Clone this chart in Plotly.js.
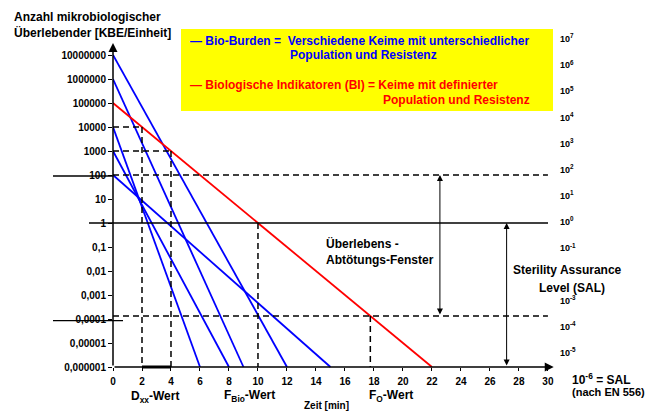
<!DOCTYPE html>
<html><head><meta charset="utf-8">
<script src="https://cdn.plot.ly/plotly-3.0.1.min.js"></script>
<style>body{margin:0;background:#fff}#chart{width:656px;height:412px}</style>
</head><body><div id="chart"></div>
<script>
// ---- data ----
const timeTicks = [0,2,4,6,8,10,12,14,16,18,20,22,24,26,28,30];
const survivorTickVals = [1e7,1e6,1e5,1e4,1e3,1e2,1e1,1,0.1,0.01,0.001,0.0001,0.00001,0.000001];
const survivorTickText = ['10000000','1000000','100000','10000','1000','100','10','1','0,1','0,01','0,001','0,0001','0,00001','0,000001'];
const salTickVals = [1e7,1e6,1e5,1e4,1e3,1e2,1e1,1,0.1,0.001,0.0001,0.00001];
const salTickText = ['10<sup>7</sup>','10<sup>6</sup>','10<sup>5</sup>','10<sup>4</sup>','10<sup>3</sup>','10<sup>2</sup>','10<sup>1</sup>','10<sup>0</sup>','10<sup>-1</sup>','10<sup>-3</sup>','10<sup>-4</sup>','10<sup>-5</sup>'];
const bioBurdenStart = [1e7, 1e6, 1e4, 1e3, 1e2];
const bioBurdenEnd = [12, 9, 6, 8, 15];
const biStart = 1e5;
const biEnd = 22;
const salLevel = 1e-6;
const markTimes = [2, 4, 10, 17.75];
const markLevels = [1e4, 1e3, 1, 1.33e-4];
const windowTop = 100;
const windowBottom = 1.33e-4;
const windowEnd = 30;

// ---- layout geometry ----
const F = 'Liberation Sans, Arial, sans-serif';
const L = 113, R = 553, T = 39, B = 379;
const W = R - L, H = B - T;
const px2x = p => (p - L) / W;
const px2y = p => (B - p) / H;
const bold = s => '<b>' + s + '</b>';

const traces = [];
const blue = '#0000ff', red = '#ff0000';
for (let i = 0; i < bioBurdenStart.length; i++) {
  traces.push({x:[0, bioBurdenEnd[i]], y:[bioBurdenStart[i], salLevel], mode:'lines',
    line:{color:blue, width:1.8}, hoverinfo:'skip', showlegend:false});
}
traces.push({x:[0, biEnd], y:[biStart, salLevel], mode:'lines',
  line:{color:red, width:1.8}, hoverinfo:'skip', showlegend:false});
const dash = {color:'black', width:1.5, dash:'6px,4px'};
for (let i = 0; i < markTimes.length; i++) {
  traces.push({x:[markTimes[i], markTimes[i]], y:[markLevels[i], salLevel], mode:'lines', line:dash, hoverinfo:'skip', showlegend:false});
  if (i < 2) traces.push({x:[0, markTimes[i]], y:[markLevels[i], markLevels[i]], mode:'lines', line:dash, hoverinfo:'skip', showlegend:false});
}
traces.push({x:[0, windowEnd], y:[windowTop, windowTop], mode:'lines', line:dash, hoverinfo:'skip', showlegend:false});
traces.push({x:[0, windowEnd], y:[windowBottom, windowBottom], mode:'lines', line:dash, hoverinfo:'skip', showlegend:false});
traces.push({x:[markTimes[0], markTimes[1]], y:[salLevel, salLevel], mode:'lines', line:{color:'black', width:3}, hoverinfo:'skip', showlegend:false});
traces.push({x:[0], y:[1], yaxis:'y2', mode:'markers', marker:{opacity:0}, hoverinfo:'skip', showlegend:false});

function txt(text, xpx, ypx, anchor, color, size, extra) {
  return Object.assign({text:bold(text), xref:'paper', yref:'paper', x:px2x(xpx), y:px2y(ypx),
    xanchor:anchor, yanchor:'middle', showarrow:false,
    font:{family:F, size:size, color:color}}, extra || {});
}
function arrow(x, y, ax, ay, side, w) {
  return {x:x, y:y, ax:ax, ay:ay, xref:'x', yref:'y', axref:'x', ayref:'y', text:'', showarrow:true,
    arrowhead:2, arrowsize:1.2, arrowwidth:w, arrowcolor:'black', arrowside:side, standoff:0, startstandoff:0};
}

const annotations = [
  arrow(0, 7.5, 0, -6, 'end', 1.5),
  arrow(30.4, -6, 0, -6, 'end', 1.5),
  arrow(22.55, 2, 22.55, Math.log10(windowBottom), 'end+start', 1),
  arrow(27.15, 0, 27.15, -6, 'end+start', 1),
  txt('— Bio-Burden =\u00a0\u00a0Verschiedene Keime mit unterschiedlicher', 188, 41, 'left', blue, 12),
  txt('Population und Resistenz', 288, 55, 'left', blue, 12),
  txt('— Biologische Indikatoren (BI) = Keime mit definierter', 188, 85, 'left', red, 12),
  txt('Population und Resistenz', 381, 100, 'left', red, 12),
  txt('Überlebens -<br>Abtötungs-Fenster', 324, 251, 'left', 'black', 12, {align:'left'}),
  txt('Sterility Assurance', 567, 270, 'center', 'black', 12),
  txt('Level (SAL)', 572, 288, 'center', 'black', 12),
  txt('10<sup>-6</sup> = SAL', 570, 379, 'left', 'black', 12),
  txt('(nach EN 556)', 570, 392, 'left', 'black', 11),
  txt('D<sub>xx</sub>-Wert', 155, 397, 'center', 'black', 12),
  txt('F<sub>Bio</sub>-Wert', 249, 396, 'center', 'black', 12),
  txt('F<sub>O</sub>-Wert', 391, 396, 'center', 'black', 12),
  txt('Zeit [min]', 326, 405, 'center', 'black', 10)
];

const shapes = [
  {type:'rect', xref:'paper', yref:'paper', x0:px2x(181), x1:px2x(553), y0:px2y(111), y1:px2y(29),
   fillcolor:'#ffff00', line:{width:0}, layer:'below'},
  {type:'line', xref:'paper', yref:'paper', x0:px2x(89), x1:px2x(548), y0:px2y(223), y1:px2y(223), line:{color:'black', width:1.3}},
  {type:'line', xref:'paper', yref:'paper', x0:px2x(53), x1:px2x(113), y0:px2y(176), y1:px2y(176), line:{color:'black', width:1.3}},
  {type:'line', xref:'paper', yref:'paper', x0:px2x(53), x1:px2x(123), y0:px2y(320.7), y1:px2y(320.7), line:{color:'black', width:1.3}}
];

const layout = {
  width:656, height:412,
  margin:{l:L, r:656-R, t:T, b:412-B, pad:0},
  paper_bgcolor:'white', plot_bgcolor:'rgba(0,0,0,0)',
  showlegend:false,
  title:{text:bold('Anzahl mikrobiologischer<br>Überlebender [KBE/Einheit]'), x:14/656, xanchor:'left', xref:'container',
    y:1-21/412, yanchor:'top', yref:'container', font:{family:F, size:12, color:'black'}},
  xaxis:{range:[0, 30.35], anchor:'free', position:12/H, tickmode:'array', tickvals:timeTicks,
    ticktext:timeTicks.map(v => bold(String(v))), ticks:'outside', ticklen:3, tickcolor:'black', showline:false,
    showgrid:false, zeroline:false, tickfont:{family:F, size:10, color:'black'}, ticklabelstandoff:2, fixedrange:true},
  yaxis:{type:'log', range:[-6.5, 7+16/24], domain:[0,1], anchor:'x', tickmode:'array', tickvals:survivorTickVals,
    ticktext:survivorTickText.map(bold), ticks:'outside', ticklen:4, tickcolor:'black', showline:false, showgrid:false,
    zeroline:false, tickfont:{family:F, size:10, color:'black'}, fixedrange:true},
  yaxis2:{type:'log', range:[-6, 7], overlaying:'y', side:'right', anchor:'x', tickmode:'array', tickvals:salTickVals,
    ticktext:salTickText.map(bold), ticks:'', showline:false, showgrid:false, zeroline:false, ticklabelstandoff:6,
    tickfont:{family:F, size:9, color:'black'}, fixedrange:true},
  shapes:shapes,
  annotations:annotations
};
Plotly.newPlot('chart', traces, layout, {staticPlot:true, displayModeBar:false});
</script>
</body></html>
